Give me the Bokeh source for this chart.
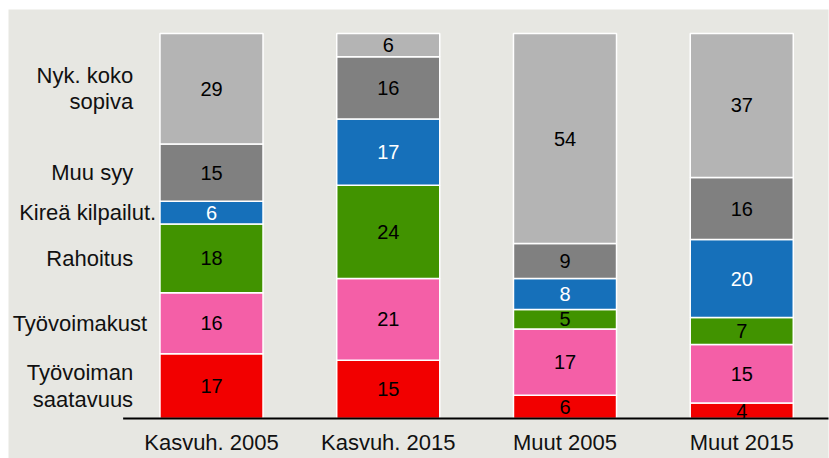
import numpy as np
from bokeh.plotting import figure
from bokeh.models import Range1d
from bokeh.core.properties import value
from bokeh.embed import file_html
from bokeh.resources import INLINE

categories = ["Kasvuh. 2005", "Kasvuh. 2015", "Muut 2005", "Muut 2015"]
series_names = ["Työvoiman\nsaatavuus", "Työvoimakust", "Rahoitus",
                "Kireä kilpailut.", "Muu syy", "Nyk. koko\nsopiva"]
tyovoiman_saatavuus = [17, 15, 6, 4]
tyovoimakust = [16, 21, 17, 15]
rahoitus = [18, 24, 5, 7]
kirea_kilpailu = [6, 17, 8, 20]
muu_syy = [15, 16, 9, 16]
nyk_koko_sopiva = [29, 6, 54, 37]

series_values = [tyovoiman_saatavuus, tyovoimakust, rahoitus,
                 kirea_kilpailu, muu_syy, nyk_koko_sopiva]

colors = ["#f20000", "#f45fa7", "#419300", "#1670ba", "#808080", "#b4b4b4"]
text_colors = ["black", "black", "black", "white", "black", "black"]
label_offsets = [10, 24, 10, 33, 10, 10]  # px: right edge of label from plot-area left

FONT = "Liberation Sans"
BG = "#e7e7e2"

W, H = 829, 458
BL, BT, BR = 8, 9, 1          # white page strips around the grey panel
FW, FH = W - BL - BR, H - BT  # grey panel size
PX_PER_CAT = 176.75
PX_PER_PCT = 3.85
LEFT_PX = 203.0      # panel left to first category centre
BASE_PX = 409.0      # panel top to baseline

vals = np.array(series_values, dtype=float)
totals = vals.sum(axis=0)
norm = vals / totals * 100.0
tops = np.cumsum(norm, axis=0)
bottoms = tops - norm
mids = (tops + bottoms) / 2.0
xs = np.arange(len(categories), dtype=float)

x0 = -LEFT_PX / PX_PER_CAT
y1 = BASE_PX / PX_PER_PCT
y0 = -(FH - BASE_PX) / PX_PER_PCT
p = figure(width=W, height=H, x_range=Range1d(x0, x0 + FW / PX_PER_CAT),
           y_range=Range1d(y0, y1), output_backend="svg", toolbar_location=None,
           min_border_left=BL, min_border_top=BT, min_border_right=BR,
           min_border_bottom=0)
p.background_fill_color = BG
p.border_fill_color = "white"
p.outline_line_color = None
p.axis.visible = False
p.grid.visible = False

for i in range(len(series_values)):
    p.vbar(x=list(xs), bottom=list(bottoms[i]), top=list(tops[i]), width=0.583,
           fill_color=colors[i], line_color="white", line_width=1.5)
    p.text(x=list(xs), y=list(mids[i]), text=[str(v) for v in series_values[i]],
           text_align="center", text_baseline="middle",
           text_font=value(FONT), text_font_size="20px", text_color=text_colors[i])

# series labels beside the first column
p.text(x=[-0.5] * len(series_names), y=list(mids[:, 0]), text=series_names,
       x_offset=label_offsets, text_align="right", text_baseline="middle",
       text_font=value(FONT), text_font_size="22px", text_color="#111111",
       text_line_height=1.05)

# baseline
p.segment(x0=[-0.5], y0=[0], x1=[len(categories) - 0.5 + 0.02], y1=[0],
          line_color="black", line_width=2)

# category labels
p.text(x=list(xs), y=[0] * len(categories), text=categories, y_offset=24,
       text_align="center", text_baseline="middle",
       text_font=value(FONT), text_font_size="22px", text_color="#111111")

open("out.html", "w").write(file_html(p, INLINE))
